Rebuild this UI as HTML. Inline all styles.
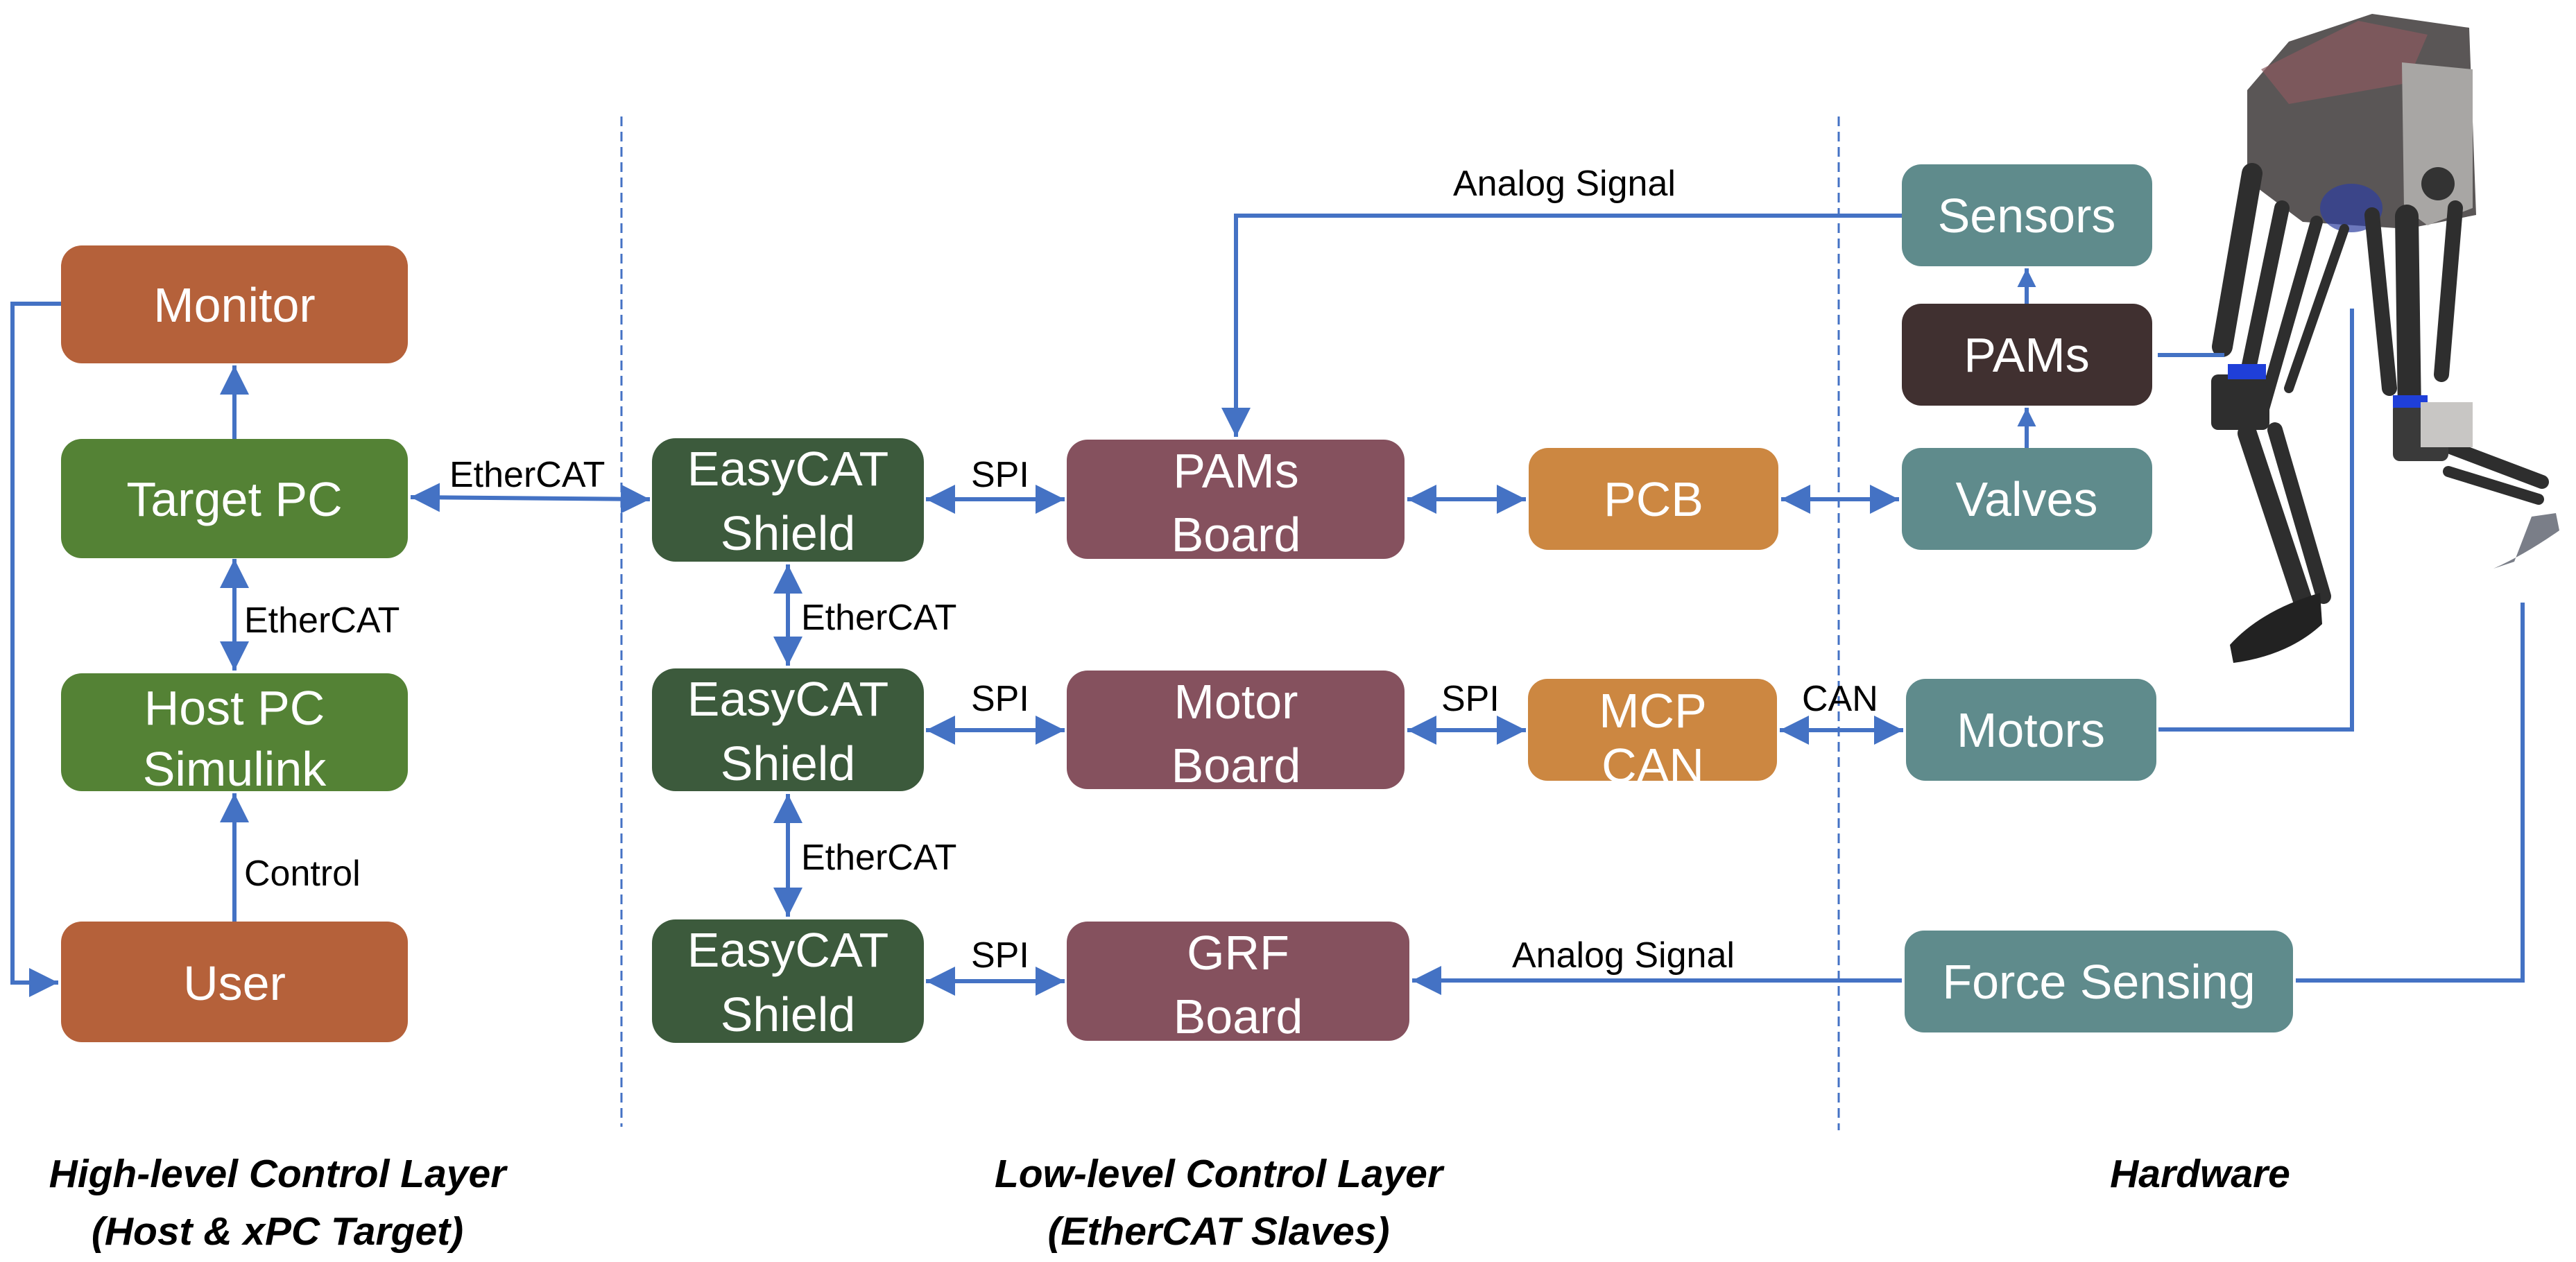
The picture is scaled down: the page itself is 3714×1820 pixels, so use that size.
<!DOCTYPE html>
<html><head><meta charset="utf-8"><style>html,body{margin:0;padding:0;background:#fff}svg{display:block}</style></head>
<body>
<svg width="3714" height="1820" viewBox="0 0 3714 1820" xmlns="http://www.w3.org/2000/svg" font-family="'Liberation Sans', sans-serif">
<defs>
<marker id="a" viewBox="0 0 10 10" refX="10" refY="5" markerWidth="7" markerHeight="7" orient="auto-start-reverse" markerUnits="strokeWidth"><path d="M0,0 L10,5 L0,10 z" fill="#4472C4"/></marker>
<marker id="s" viewBox="0 0 10 10" refX="10" refY="5" markerWidth="4.5" markerHeight="4.5" orient="auto-start-reverse" markerUnits="strokeWidth"><path d="M0,0 L10,5 L0,10 z" fill="#4472C4"/></marker>
</defs>
<rect width="3714" height="1820" fill="#fff"/>

<g stroke="#4472C4" stroke-width="3" stroke-dasharray="14,8">
<line x1="896" y1="168" x2="896" y2="1625"/>
<line x1="2651" y1="168" x2="2651" y2="1630"/>
</g>

<!-- robot (approximate) -->
<g>
<path d="M3240,130 L3300,60 L3420,20 L3560,40 L3570,310 L3470,330 L3320,320 L3240,260 Z" fill="#5a5656"/>
<path d="M3260,100 L3400,30 L3500,50 L3470,120 L3300,150 Z" fill="#8a5a60" opacity="0.7"/>
<path d="M3463,90 L3565,100 L3565,300 L3500,325 L3466,300 Z" fill="#a8a6a4"/>
<circle cx="3515" cy="265" r="24" fill="#333"/>
<ellipse cx="3390" cy="300" rx="45" ry="35" fill="#2d3ea0" opacity="0.7"/>
<g stroke="#2e2e2e" stroke-linecap="round" fill="none">
<line x1="3247" y1="250" x2="3204" y2="500" stroke-width="30"/>
<line x1="3290" y1="300" x2="3236" y2="560" stroke-width="22"/>
<line x1="3340" y1="320" x2="3260" y2="600" stroke-width="18"/>
<line x1="3380" y1="330" x2="3300" y2="560" stroke-width="14"/>
<line x1="3240" y1="625" x2="3323" y2="875" stroke-width="28"/>
<line x1="3280" y1="620" x2="3350" y2="860" stroke-width="22"/>
<line x1="3470" y1="312" x2="3474" y2="594" stroke-width="34"/>
<line x1="3420" y1="310" x2="3445" y2="560" stroke-width="22"/>
<line x1="3540" y1="300" x2="3520" y2="540" stroke-width="22"/>
<line x1="3520" y1="640" x2="3665" y2="695" stroke-width="20"/>
<line x1="3530" y1="680" x2="3660" y2="720" stroke-width="16"/>
</g>
<rect x="3188" y="540" width="84" height="80" rx="10" fill="#2e2e2e"/>
<rect x="3212" y="525" width="55" height="22" fill="#1f3fd8"/>
<rect x="3450" y="580" width="80" height="85" rx="10" fill="#3a3a3a"/>
<rect x="3450" y="570" width="50" height="18" fill="#1f3fd8"/>
<rect x="3490" y="580" width="75" height="65" fill="#c8c6c4"/>
<path d="M3215,930 Q3260,880 3345,855 L3348,900 Q3300,945 3220,956 Z" fill="#222"/>
<path d="M3595,820 Q3640,800 3690,765 L3685,740 L3650,745 L3625,810 Z" fill="#7a7e88"/>
</g>

<g stroke="#4472C4" stroke-width="6" fill="none">
<polyline points="88,438 18,438 18,1417 84,1417" marker-end="url(#a)"/>
<line x1="338" y1="633" x2="338" y2="527" marker-end="url(#a)"/>
<line x1="338" y1="806" x2="338" y2="967" marker-start="url(#a)" marker-end="url(#a)"/>
<line x1="338" y1="1329" x2="338" y2="1144" marker-end="url(#a)"/>
<line x1="592" y1="717" x2="937" y2="720" marker-start="url(#a)" marker-end="url(#a)"/>
<line x1="1136" y1="814" x2="1136" y2="960" marker-start="url(#a)" marker-end="url(#a)"/>
<line x1="1136" y1="1145" x2="1136" y2="1322" marker-start="url(#a)" marker-end="url(#a)"/>
<line x1="1335" y1="720" x2="1535" y2="720" marker-start="url(#a)" marker-end="url(#a)"/>
<line x1="1335" y1="1053" x2="1535" y2="1053" marker-start="url(#a)" marker-end="url(#a)"/>
<line x1="1335" y1="1415" x2="1535" y2="1415" marker-start="url(#a)" marker-end="url(#a)"/>
<line x1="2029" y1="720" x2="2200" y2="720" marker-start="url(#a)" marker-end="url(#a)"/>
<line x1="2029" y1="1053" x2="2200" y2="1053" marker-start="url(#a)" marker-end="url(#a)"/>
<line x1="2568" y1="720" x2="2738" y2="720" marker-start="url(#a)" marker-end="url(#a)"/>
<line x1="2566" y1="1053" x2="2744" y2="1053" marker-start="url(#a)" marker-end="url(#a)"/>
<line x1="2922" y1="646" x2="2922" y2="588" marker-end="url(#s)"/>
<line x1="2922" y1="438" x2="2922" y2="387" marker-end="url(#s)"/>
<polyline points="2742,311 1782,311 1782,630" marker-end="url(#a)"/>
<line x1="2742" y1="1414" x2="2036" y2="1414" marker-end="url(#a)"/>
<line x1="3111" y1="512" x2="3207" y2="512"/>
<polyline points="3112,1052 3391,1052 3391,445"/>
<polyline points="3310,1414 3637,1414 3637,869"/>
</g>

<g>
<rect x="88" y="354" width="500" height="170" rx="30" fill="#B5613A"/>
<rect x="88" y="633" width="500" height="172" rx="30" fill="#548235"/>
<rect x="88" y="971" width="500" height="170" rx="30" fill="#548235"/>
<rect x="88" y="1329" width="500" height="174" rx="30" fill="#B5613A"/>
<rect x="940" y="632" width="392" height="178" rx="34" fill="#3C5A3C"/>
<rect x="940" y="964" width="392" height="177" rx="34" fill="#3C5A3C"/>
<rect x="940" y="1326" width="392" height="178" rx="34" fill="#3C5A3C"/>
<rect x="1538" y="634" width="487" height="172" rx="30" fill="#85515E"/>
<rect x="1538" y="967" width="487" height="171" rx="30" fill="#85515E"/>
<rect x="1538" y="1329" width="494" height="172" rx="30" fill="#85515E"/>
<rect x="2204" y="646" width="360" height="147" rx="28" fill="#CC8741"/>
<rect x="2203" y="979" width="359" height="147" rx="28" fill="#CC8741"/>
<rect x="2742" y="237" width="361" height="147" rx="28" fill="#5F8B8C"/>
<rect x="2742" y="438" width="361" height="147" rx="28" fill="#403030"/>
<rect x="2742" y="646" width="361" height="147" rx="28" fill="#5F8B8C"/>
<rect x="2748" y="979" width="361" height="147" rx="28" fill="#5F8B8C"/>
<rect x="2746" y="1342" width="560" height="147" rx="28" fill="#5F8B8C"/>
</g>

<g fill="#fff" font-size="70" text-anchor="middle">
<text x="338" y="464">Monitor</text>
<text x="338" y="744">Target PC</text>
<text x="338" y="1045">Host PC</text>
<text x="338" y="1133">Simulink</text>
<text x="338" y="1442">User</text>
<text x="1136" y="700">EasyCAT</text><text x="1136" y="793">Shield</text>
<text x="1136" y="1032">EasyCAT</text><text x="1136" y="1125">Shield</text>
<text x="1136" y="1394">EasyCAT</text><text x="1136" y="1487">Shield</text>
<text x="1782" y="703">PAMs</text><text x="1782" y="795">Board</text>
<text x="1782" y="1036">Motor</text><text x="1782" y="1128">Board</text>
<text x="1785" y="1398">GRF</text><text x="1785" y="1490">Board</text>
<text x="2384" y="744">PCB</text>
<text x="2383" y="1049">MCP</text><text x="2383" y="1128">CAN</text>
<text x="2922" y="335">Sensors</text>
<text x="2922" y="536">PAMs</text>
<text x="2922" y="744">Valves</text>
<text x="2928" y="1077">Motors</text>
<text x="3026" y="1440">Force Sensing</text>
</g>

<g fill="#000" font-size="52">
<text x="648" y="702">EtherCAT</text>
<text x="352" y="912">EtherCAT</text>
<text x="352" y="1277">Control</text>
<text x="1155" y="908">EtherCAT</text>
<text x="1155" y="1254">EtherCAT</text>
<text x="1400" y="702">SPI</text>
<text x="1400" y="1025">SPI</text>
<text x="1400" y="1395">SPI</text>
<text x="2078" y="1025">SPI</text>
<text x="2598" y="1025">CAN</text>
<text x="2095" y="282">Analog Signal</text>
<text x="2180" y="1395">Analog Signal</text>
</g>

<g fill="#000" font-size="57" font-weight="bold" font-style="italic" text-anchor="middle">
<text x="400" y="1712">High-level Control Layer</text>
<text x="400" y="1795">(Host &amp; xPC Target)</text>
<text x="1757" y="1712">Low-level Control Layer</text>
<text x="1757" y="1795">(EtherCAT Slaves)</text>
<text x="3172" y="1712">Hardware</text>
</g>
</svg>
</body></html>
